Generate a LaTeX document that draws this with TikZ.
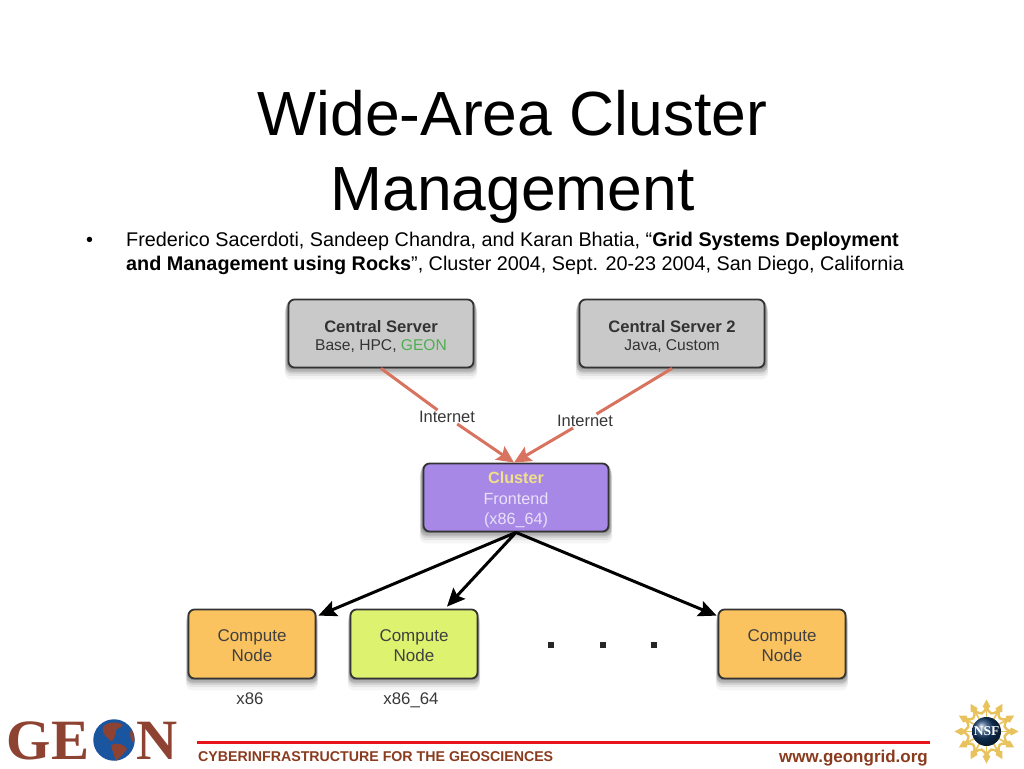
\documentclass[tikz,border=0pt]{standalone}
\usepackage{fontspec}
\setmainfont{Liberation Sans}
\newfontfamily\logofont{Liberation Serif}
\usetikzlibrary{arrows.meta,shadows}
\definecolor{greybox}{HTML}{C9C9C9}
\definecolor{purplebox}{HTML}{A888E6}
\definecolor{orangebox}{HTML}{FBC35F}
\definecolor{limebox}{HTML}{DDF26E}
\definecolor{linkred}{HTML}{D8735F}
\definecolor{footbrown}{HTML}{8A3B1E}
\definecolor{logobrown}{HTML}{8E4232}
\definecolor{globeblue}{HTML}{1A55A0}
\definecolor{nsfgold}{HTML}{E8C25C}
\definecolor{nsfblue}{HTML}{143C6B}
\definecolor{clusteryellow}{HTML}{F0E08A}
\definecolor{frontwhite}{HTML}{E9E0FA}
\definecolor{geongreen}{HTML}{4DAF4F}
\definecolor{footred}{HTML}{E8141C}
\tikzset{
  softshadow/.style={
    general shadow={shadow xshift=0pt,shadow yshift=-1pt,shadow scale=1.02,fill=black,opacity=.16},
    general shadow={shadow xshift=0pt,shadow yshift=-3pt,shadow scale=1.03,fill=black,opacity=.13},
    general shadow={shadow xshift=0pt,shadow yshift=-5pt,shadow scale=1.03,fill=black,opacity=.10},
    general shadow={shadow xshift=0pt,shadow yshift=-7pt,shadow scale=1.04,fill=black,opacity=.07},
    general shadow={shadow xshift=0pt,shadow yshift=-10pt,shadow scale=1.04,fill=black,opacity=.04}},
  boxbase/.style={softshadow,draw=black!80,line width=1.8pt,rounded corners=6pt,align=center,
    inner sep=0pt,font=\fontsize{15.6}{20}\selectfont},
  serverbox/.style={boxbase,fill=greybox,minimum width=185pt,minimum height=68pt,text=black!80},
  frontbox/.style={boxbase,fill=purplebox,minimum width=185pt,minimum height=68pt,text=frontwhite,
    font=\fontsize{16.2}{20.5}\selectfont},
  computebox/.style={boxbase,minimum width=127pt,minimum height=69pt,text=black!75,
    font=\fontsize{17}{20}\selectfont},
  netlabel/.style={font=\fontsize{16.5}{18}\selectfont,text=black!78,inner sep=1pt},
  archlabel/.style={font=\fontsize{16.8}{18}\selectfont,text=black!78,inner sep=0pt,anchor=base},
  redlink/.style={draw=linkred,line width=3pt,-{Stealth[length=17pt,width=16pt,inset=3pt]}},
  blacklink/.style={draw=black,line width=3pt,-{Stealth[length=18pt,width=16pt,inset=3pt]}},
  contdot/.style={fill=black!85,minimum size=6pt,inner sep=0pt},
  logoletter/.style={font=\logofont\bfseries\fontsize{57}{57}\selectfont,text=logobrown,inner sep=0pt},
}
\begin{document}
\begin{tikzpicture}[x=1pt,y=-1pt]
\useasboundingbox (0,0) rectangle (1024,768);
% title
\node[font=\fontsize{62.4}{75}\selectfont,anchor=base,inner sep=0pt] (title1) at (512.5,135) {Wide-Area Cluster};
\node[font=\fontsize{62.4}{75}\selectfont,anchor=base,inner sep=0pt] (title2) at (512.5,210) {Management};
% bullet
\node[font=\fontsize{19.8}{24}\selectfont,anchor=base west,inner sep=0pt] (bul) at (86,246) {•};
\node[font=\fontsize{19.8}{24}\selectfont,anchor=base west,inner sep=0pt] (cite1) at (126,246)
  {Frederico Sacerdoti, Sandeep Chandra, and Karan Bhatia, “\textbf{Grid Systems Deployment}};
\node[font=\fontsize{19.8}{24}\selectfont,anchor=base west,inner sep=0pt] (cite2) at (126,270)
  {\textbf{and Management using Rocks}”, Cluster 2004, Sept. 20-23 2004, San Diego, California};
% boxes
\node[serverbox] (cs1) at (381,333.5)
  {\rule{0pt}{17pt}\fontsize{16.6}{20}\selectfont\textbf{Central Server}\\[-2pt]Base, HPC, \textcolor{geongreen}{GEON}};
\node[serverbox] (cs2) at (672,333.5)
  {\rule{0pt}{17pt}\fontsize{16.6}{20}\selectfont\textbf{Central Server 2}\\[-2pt]Java, Custom};
\node[frontbox] (fe) at (516,497.5)
  {\rule{0pt}{17pt}\textcolor{clusteryellow}{\textbf{Cluster}}\\Frontend\\(x86\_64)};
\node[computebox,fill=orangebox] (c1) at (252,644) {\rule{0pt}{15pt}Compute\\Node};
\node[computebox,fill=limebox] (c2) at (414,644) {\rule{0pt}{15pt}Compute\\Node};
\node[computebox,fill=orangebox] (c3) at (782,644) {\rule{0pt}{15pt}Compute\\Node};
\node[archlabel] (a1) at (250,704) {x86};
\node[archlabel] (a2) at (411,704) {x86\_64};
% dots
\node[contdot] (d1) at (551,645) {};
\node[contdot] (d2) at (603,645) {};
\node[contdot] (d3) at (654,645) {};
% labels
\node[netlabel] (n1) at (447,417) {Internet};
\node[netlabel] (n2) at (585,421) {Internet};
% connectors
\draw[draw=linkred,line width=3pt] (cs1.south) -- (n1);
\draw[redlink] (n1) -- ([xshift=-2pt]fe.north);
\draw[draw=linkred,line width=3pt] (cs2.south) -- (n2);
\draw[redlink] (n2) -- ([xshift=-2pt]fe.north);
\draw[blacklink] (fe.south) -- ([shift={(2pt,-7pt)}]c1.north east);
\draw[blacklink] (fe.south) -- ([shift={(33pt,2pt)}]c2.north);
\draw[blacklink] (fe.south) -- ([shift={(-1pt,-7pt)}]c3.north west);
% footer logo
\node[logoletter,anchor=base] (lg) at (29,759.5) {G};
\node[logoletter,anchor=base] (le) at (70.5,759.5) {E};
\node[logoletter,anchor=base] (ln) at (157,759.5) {N};
\node[circle,fill=globeblue,minimum size=41.5pt,inner sep=0pt] (globe) at (114,740) {};
\fill[logobrown] (103,727) .. controls (107,722) and (117,721) .. (123,725)
  .. controls (120,729) and (114,728) .. (116,733) .. controls (114,739) and (112,745) .. (108,738)
  .. controls (104,736) and (102,731) .. (103,727) -- cycle;
\fill[logobrown] (111,745) .. controls (116,742) and (124,744) .. (127,749)
  .. controls (124,754) and (120,757) .. (116,761) .. controls (114,755) and (112,750) .. (111,745) -- cycle;
\fill[logobrown] (131,729) .. controls (134,733) and (135,738) .. (134,743) .. controls (131,742) and (129,735) .. (131,729) -- cycle;
% footer
\node[inner sep=0pt,minimum size=0pt] (rl) at (197,742) {};
\node[inner sep=0pt,minimum size=0pt] (rr) at (930,742) {};
\draw[line width=3pt,draw=footred] (rl) -- (rr);
\node[font=\bfseries\fontsize{14.2}{16}\selectfont,text=footbrown,anchor=base west,inner sep=0pt] (ft) at (198,761)
  {CYBERINFRASTRUCTURE FOR THE GEOSCIENCES};
\node[font=\bfseries\fontsize{17}{18}\selectfont,text=footbrown,anchor=base east,inner sep=0pt] (url) at (928,762.5)
  {www.geongrid.org};
% NSF seal
\foreach \a in {0,30,...,330}{
  \draw[nsfgold,line width=1.6pt] ([shift={(\a:14)}]986.5,731.5) -- ([shift={(\a:28)}]986.5,731.5);
  \fill[nsfgold] ([shift={(\a:32)}]986.5,731.5) -- ([shift={(\a+9:25)}]986.5,731.5)
     -- ([shift={(\a:22)}]986.5,731.5) -- ([shift={(\a-9:25)}]986.5,731.5) -- cycle;
  \draw[nsfgold,line width=2.4pt] ([shift={(\a:25)}]986.5,731.5) .. controls ([shift={(\a+10:17)}]986.5,731.5) and ([shift={(\a+20:17)}]986.5,731.5) .. ([shift={(\a+30:25)}]986.5,731.5);
}
\node[circle,shading=ball,ball color=nsfblue,minimum size=29pt,inner sep=0pt,text=white,
  font=\logofont\bfseries\fontsize{13.5}{13.5}\selectfont] (nsf) at (986.5,731.5) {NSF};
\end{tikzpicture}
\end{document}
